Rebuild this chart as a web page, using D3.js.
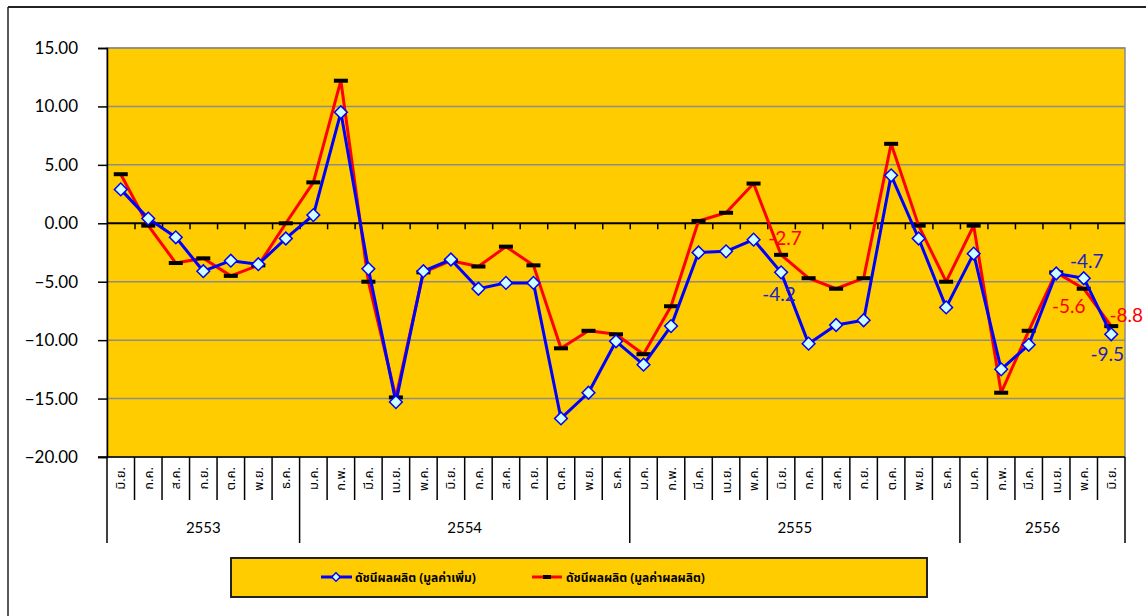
<!DOCTYPE html>
<html>
<head>
<meta charset="utf-8">
<script src="https://cdn.jsdelivr.net/npm/d3@7"></script>
<style>
  body { margin: 0; background: #fff; }
  svg text { font-family: Lato, "Noto Sans", sans-serif; }
  .thai { font-family: "Noto Sans Thai", "Noto Sans", "DejaVu Sans", sans-serif; }
</style>
</head>
<body>
<script>
/* Categories: months grouped by Thai year */
var months = ["มิ.ย.", "ก.ค.", "ส.ค.", "ก.ย.", "ต.ค.", "พ.ย.", "ธ.ค.",
    "ม.ค.", "ก.พ.", "มี.ค.", "เม.ย.", "พ.ค.", "มิ.ย.", "ก.ค.", "ส.ค.", "ก.ย.", "ต.ค.", "พ.ย.", "ธ.ค.",
    "ม.ค.", "ก.พ.", "มี.ค.", "เม.ย.", "พ.ค.", "มิ.ย.", "ก.ค.", "ส.ค.", "ก.ย.", "ต.ค.", "พ.ย.", "ธ.ค.",
    "ม.ค.", "ก.พ.", "มี.ค.", "เม.ย.", "พ.ค.", "มิ.ย."];
var years = ["2553", "2554", "2555", "2556"];
var yearCounts = [7, 12, 12, 6];

/* Series values */
var valueAdded = [2.9, 0.4, -1.2, -4.1, -3.2, -3.5, -1.3,
    0.7, 9.5, -3.9, -15.3, -4.1, -3.1, -5.6, -5.1, -5.1, -16.7, -14.5, -10.1,
    -12.1, -8.8, -2.5, -2.4, -1.4, -4.2, -10.3, -8.7, -8.3, 4.1, -1.3, -7.2,
    -2.6, -12.5, -10.4, -4.3, -4.7, -9.5];
var output = [4.2, -0.2, -3.4, -3.0, -4.5, -3.6, 0.0,
    3.5, 12.2, -5.0, -14.9, -4.2, -3.2, -3.7, -2.0, -3.6, -10.7, -9.2, -9.5,
    -11.2, -7.1, 0.2, 0.9, 3.4, -2.7, -4.7, -5.6, -4.7, 6.8, -0.2, -5.0,
    -0.2, -14.5, -9.2, -4.2, -5.6, -8.8];

var yTicks = [15, 10, 5, 0, -5, -10, -15, -20];
var seriesNames = ["ดัชนีผลผลิต (มูลค่าเพิ่ม)", "ดัชนีผลผลิต (มูลค่าผลผลิต)"];

/* Labelled points: [index, dx, dy] */
var blueLabels = [[24, -2, 29], [35, 3, -10], [36, -4, 27]];
var redLabels = [[24, 4, -10], [35, -15, 24], [36, 15, -4]];

var width = 1146, height = 616;
var plotLeft = 107, plotRight = 1125, plotTop = 48, plotBottom = 457;

var svg = d3.select("body").append("svg")
    .attr("width", width)
    .attr("height", height);

/* outer frame */
svg.append("line").attr("x1", 8).attr("x2", width).attr("y1", 7).attr("y2", 7)
    .attr("stroke", "#222").attr("stroke-width", 2);
svg.append("line").attr("x1", 8).attr("x2", 8).attr("y1", 7).attr("y2", height)
    .attr("stroke", "#222").attr("stroke-width", 1.5);

var x = d3.scaleBand()
    .domain(d3.range(months.length))
    .range([plotLeft, plotRight]);

var y = d3.scaleLinear()
    .domain([-20, 15])
    .range([plotBottom, plotTop]);

/* plot background */
svg.append("rect")
    .attr("x", plotLeft).attr("y", plotTop)
    .attr("width", plotRight - plotLeft).attr("height", plotBottom - plotTop)
    .attr("fill", "#FFCC00")
    .attr("stroke", "#8c8c8c").attr("stroke-width", 1.5);

/* gridlines */
svg.append("g").selectAll("line")
    .data(yTicks.filter(function(d) { return d !== 0 && d !== -20; }))
    .enter().append("line")
    .attr("x1", plotLeft).attr("x2", plotRight)
    .attr("y1", function(d) { return y(d); })
    .attr("y2", function(d) { return y(d); })
    .attr("stroke", "#8c8c8c").attr("stroke-width", 1.5);

/* y axis */
var yAxis = d3.axisLeft(y)
    .tickValues(yTicks)
    .tickSize(9)
    .tickFormat(d3.format(".2f"));
var yg = svg.append("g")
    .attr("transform", "translate(" + plotLeft + ",0)")
    .call(yAxis);
yg.select(".domain").attr("stroke", "#000").attr("stroke-width", 1.5);
yg.selectAll(".tick line").attr("stroke", "#000").attr("stroke-width", 1.5);
yg.selectAll(".tick text")
    .attr("x", -29)
    .attr("font-size", 17)
    .attr("font-family", "Lato, sans-serif")
    .attr("fill", "#000");

/* zero line with category ticks */
var zeroAxis = d3.axisBottom(d3.scaleLinear().domain([0, months.length]).range([plotLeft, plotRight]))
    .tickValues(d3.range(1, months.length))
    .tickSize(6)
    .tickFormat("");
var zg = svg.append("g")
    .attr("transform", "translate(0," + y(0) + ")")
    .call(zeroAxis);
zg.select(".domain").attr("stroke", "#000").attr("stroke-width", 2).attr("d", "M" + plotLeft + ",0H" + plotRight);
zg.selectAll(".tick line").attr("stroke", "#000").attr("stroke-width", 1.5);

/* bottom axis line */
svg.append("line")
    .attr("x1", plotLeft - 9).attr("x2", plotRight)
    .attr("y1", plotBottom).attr("y2", plotBottom)
    .attr("stroke", "#000").attr("stroke-width", 1.5);

/* category separators */
var starts = [0];
yearCounts.forEach(function(c, i) { starts.push(starts[i] + c); });
var cat = svg.append("g");
cat.selectAll("line")
    .data(d3.range(months.length + 1))
    .enter().append("line")
    .attr("x1", function(i) { return i < months.length ? x(i) : plotRight; })
    .attr("x2", function(i) { return i < months.length ? x(i) : plotRight; })
    .attr("y1", plotBottom)
    .attr("y2", function(i) { return starts.indexOf(i) >= 0 ? 543 : 500; })
    .attr("stroke", "#000").attr("stroke-width", 1.5);

/* month labels (rotated) */
cat.selectAll("text")
    .data(months)
    .enter().append("text")
    .attr("class", "thai")
    .attr("transform", function(d, i) {
        return "translate(" + (x(i) + x.bandwidth() / 2 + 4.5) + ",467) rotate(-90)";
    })
    .attr("text-anchor", "end")
    .attr("font-size", 13)
    .attr("fill", "#000")
    .text(function(d) { return d; });

/* year labels */
svg.append("g").selectAll("text")
    .data(years)
    .enter().append("text")
    .attr("x", function(d, i) {
        var a = x(starts[i]);
        var b = starts[i + 1] < months.length ? x(starts[i + 1]) : plotRight;
        return (a + b) / 2;
    })
    .attr("y", 533)
    .attr("text-anchor", "middle")
    .attr("font-size", 15)
    .attr("fill", "#000")
    .text(function(d) { return d; });

var cx = function(d, i) { return x(i) + x.bandwidth() / 2; };

/* red line: output value */
svg.append("path")
    .datum(output)
    .attr("fill", "none")
    .attr("stroke", "#FF0000")
    .attr("stroke-width", 3)
    .attr("stroke-linejoin", "round")
    .attr("d", d3.line().x(cx).y(function(d) { return y(d); }));

svg.append("g").selectAll("rect")
    .data(output)
    .enter().append("rect")
    .attr("x", function(d, i) { return cx(d, i) - 7; })
    .attr("y", function(d) { return y(d) - 2; })
    .attr("width", 14).attr("height", 4)
    .attr("fill", "#000");

/* blue line: value added */
svg.append("path")
    .datum(valueAdded)
    .attr("fill", "none")
    .attr("stroke", "#0000FF")
    .attr("stroke-width", 3)
    .attr("stroke-linejoin", "round")
    .attr("d", d3.line().x(cx).y(function(d) { return y(d); }));

/* diamond markers: squares turned 45 degrees */
var square = d3.symbol().type(d3.symbolSquare).size(81);
svg.append("g").selectAll("path")
    .data(valueAdded)
    .enter().append("path")
    .attr("d", square)
    .attr("transform", function(d, i) { return "translate(" + cx(d, i) + "," + y(d) + ") rotate(45)"; })
    .attr("fill", "#CCFFFF")
    .attr("stroke", "#0000FF")
    .attr("stroke-width", 1.5);

/* data labels */
svg.append("g").selectAll("text")
    .data(redLabels)
    .enter().append("text")
    .attr("x", function(d) { return cx(null, d[0]) + d[1]; })
    .attr("y", function(d) { return y(output[d[0]]) + d[2]; })
    .attr("text-anchor", "middle")
    .attr("font-size", 19)
    .attr("fill", "#FF0000")
    .text(function(d) { return output[d[0]].toFixed(1); });

svg.append("g").selectAll("text")
    .data(blueLabels)
    .enter().append("text")
    .attr("x", function(d) { return cx(null, d[0]) + d[1]; })
    .attr("y", function(d) { return y(valueAdded[d[0]]) + d[2]; })
    .attr("text-anchor", "middle")
    .attr("font-size", 19)
    .attr("fill", "#2020CC")
    .text(function(d) { return valueAdded[d[0]].toFixed(1); });

/* legend */
var lg = svg.append("g");
lg.append("rect")
    .attr("x", 231).attr("y", 558)
    .attr("width", 696).attr("height", 39)
    .attr("fill", "#FFCC00")
    .attr("stroke", "#222").attr("stroke-width", 2);

lg.append("line")
    .attr("x1", 321).attr("x2", 352).attr("y1", 577).attr("y2", 577)
    .attr("stroke", "#0000FF").attr("stroke-width", 3);
lg.append("path")
    .attr("d", d3.symbol().type(d3.symbolSquare).size(36))
    .attr("transform", "translate(336,577) rotate(45)")
    .attr("fill", "#CCFFFF").attr("stroke", "#0000FF").attr("stroke-width", 1.5);
lg.append("text")
    .attr("class", "thai")
    .attr("x", 355).attr("y", 582)
    .attr("font-size", 12).attr("font-weight", "bold")
    .attr("fill", "#000")
    .text(seriesNames[0]);

lg.append("line")
    .attr("x1", 532).attr("x2", 562).attr("y1", 577).attr("y2", 577)
    .attr("stroke", "#FF0000").attr("stroke-width", 3);
lg.append("rect")
    .attr("x", 543).attr("y", 575).attr("width", 8).attr("height", 4)
    .attr("fill", "#000");
lg.append("text")
    .attr("class", "thai")
    .attr("x", 566).attr("y", 582)
    .attr("font-size", 12).attr("font-weight", "bold")
    .attr("fill", "#000")
    .text(seriesNames[1]);
</script>
</body>
</html>
